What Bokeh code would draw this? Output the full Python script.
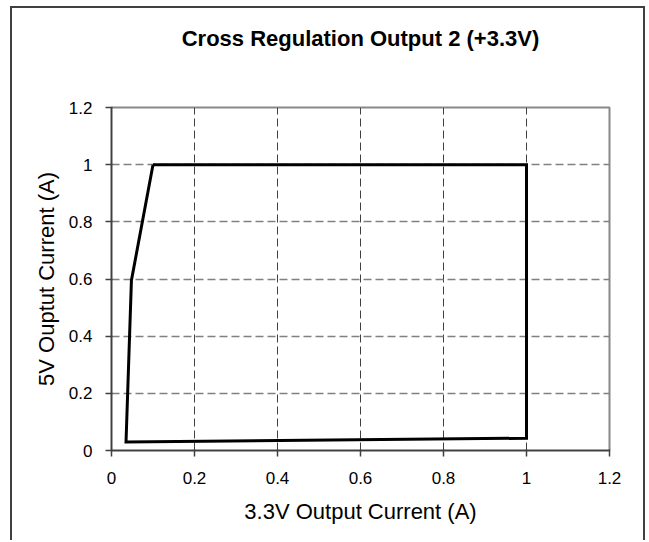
from bokeh.plotting import figure
from bokeh.layouts import column
from bokeh.models import Range1d, FixedTicker, Title
from bokeh.embed import file_html
from bokeh.resources import INLINE

# Data
x_current_3v3 = [0.1, 1.0, 1.0, 0.035, 0.048, 0.1]
y_current_5v = [1.0, 1.0, 0.043, 0.03, 0.595, 1.0]

tick_values = [0, 0.2, 0.4, 0.6, 0.8, 1.0, 1.2]
tick_labels = ["0", "0.2", "0.4", "0.6", "0.8", "1", "1.2"]

title_text = "Cross Regulation Output 2 (+3.3V)"
x_label = "3.3V Output Current (A)"
y_label = "5V Ouptut Current (A)"

FONT = "Liberation Sans"

p = figure(
    frame_width=498, frame_height=343,
    min_border_left=99, min_border_right=34,
    min_border_top=99, min_border_bottom=90,
    x_range=Range1d(0, 1.2), y_range=Range1d(0, 1.2),
    output_backend="svg", toolbar_location=None,
    background_fill_color="white", border_fill_color="white",
)

# blank spacer next to the frame, then the real title above it
spacer = Title(text=" ", align="center", text_font=FONT,
               text_font_size="22px", standoff=30)
p.add_layout(spacer, "above")
t = Title(text=title_text, align="center",
          text_font=FONT, text_font_size="22px", text_font_style="bold",
          text_color="black", standoff=0)
p.add_layout(t, "above")

p.outline_line_color = "#888888"
p.outline_line_width = 2

for ax, lab in ((p.xaxis[0], x_label), (p.yaxis[0], y_label)):
    ax.ticker = FixedTicker(ticks=tick_values)
    ax.major_label_overrides = {v: s for v, s in zip(tick_values, tick_labels)}
    ax.axis_label = lab
    ax.axis_label_text_font = FONT
    ax.axis_label_text_font_size = "22px"
    ax.axis_label_text_font_style = "normal"
    ax.axis_label_text_color = "black"
    ax.major_label_text_font = FONT
    ax.major_label_text_font_size = "17px"
    ax.major_label_text_color = "black"
    ax.axis_line_color = "#404040"
    ax.axis_line_width = 1.5
    ax.major_tick_line_color = "#404040"
    ax.major_tick_line_width = 1.5
    ax.major_tick_out = 6
    ax.major_tick_in = 1
    ax.minor_tick_line_color = None

p.xaxis[0].major_label_standoff = 15
p.xaxis[0].axis_label_standoff = 12
p.yaxis[0].major_label_standoff = 13
p.yaxis[0].axis_label_standoff = 7

p.xgrid.ticker = FixedTicker(ticks=tick_values[1:-1])
p.ygrid.ticker = FixedTicker(ticks=tick_values[1:-1])
p.xgrid.grid_line_color = "#404040"
p.xgrid.grid_line_width = 1
p.xgrid.grid_line_dash = "8 4"
p.ygrid.grid_line_color = "#808080"
p.ygrid.grid_line_width = 1.5
p.ygrid.grid_line_dash = "8 4"

p.line(x_current_3v3, y_current_5v, line_color="black", line_width=3,
       line_join="miter")

layout = column(p, styles={
    "border-left": "2px solid #404040",
    "border-right": "2px solid #404040",
    "border-top": "2px solid #404040",
    "margin-left": "10px",
    "margin-top": "6px",
})

open("out.html", "w").write(file_html(layout, INLINE))
